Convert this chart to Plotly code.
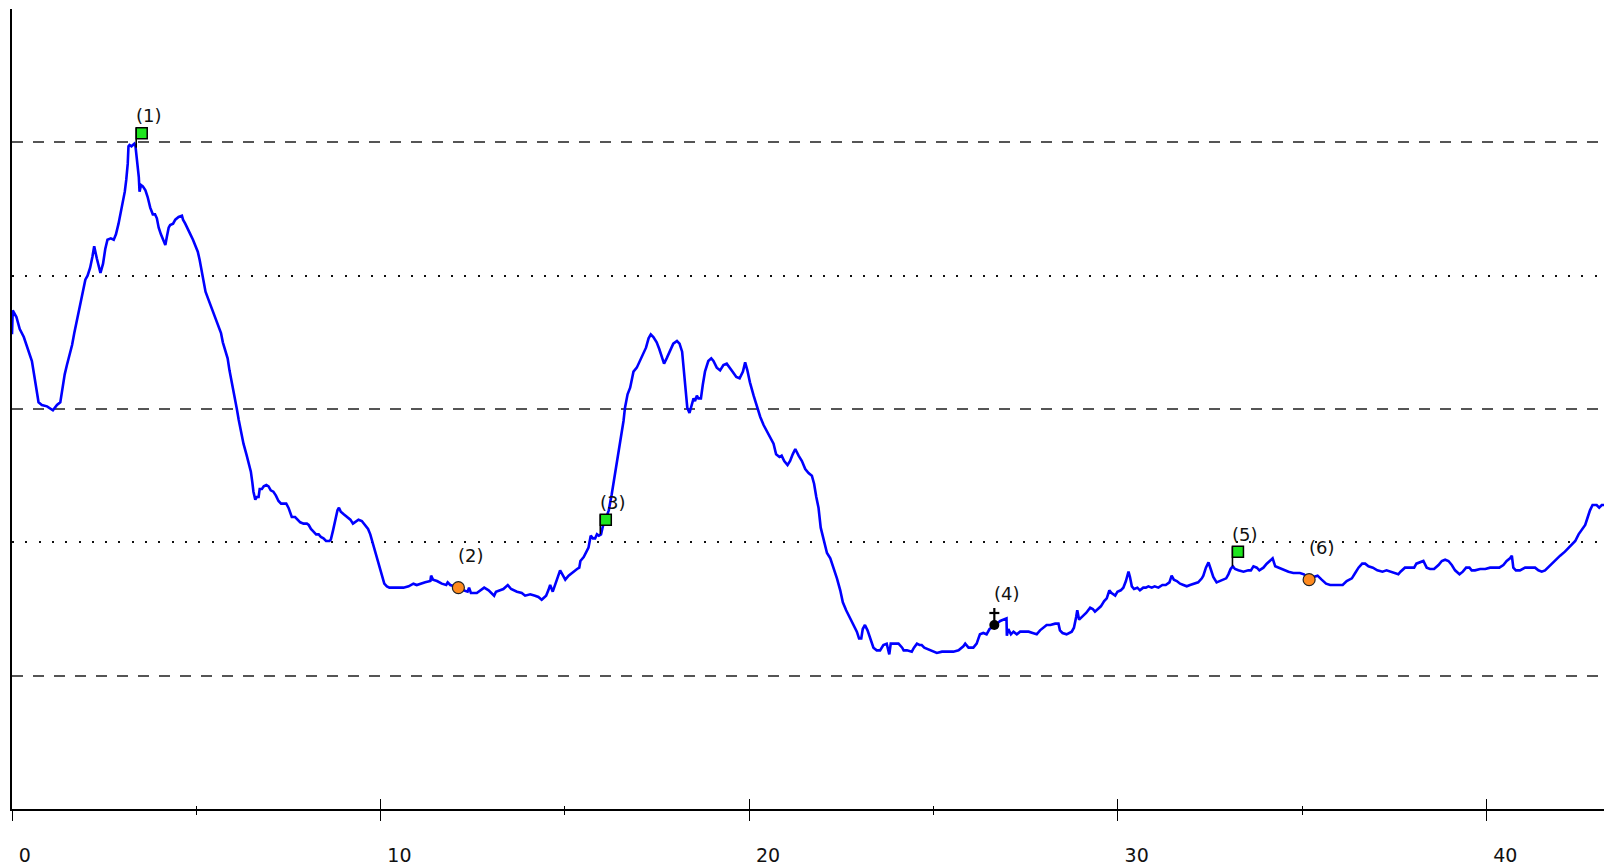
import plotly.graph_objects as go

# ---- route profile (distance in km, elevation in m) ----
km = [0.00, 0.02, 0.12, 0.21, 0.32, 0.42, 0.54, 0.61, 0.68, 0.72, 0.81, 0.95, 1.11, 1.22, 1.31, 1.37,
      1.43, 1.49, 1.58, 1.63, 1.69, 1.76, 1.85, 1.92, 1.99, 2.05, 2.12, 2.18, 2.23, 2.30, 2.40, 2.47,
      2.53, 2.59, 2.68, 2.76, 2.82, 2.89, 2.96, 3.00, 3.06, 3.10, 3.14, 3.16, 3.19, 3.24, 3.28, 3.32,
      3.35, 3.37, 3.41, 3.44, 3.46, 3.50, 3.55, 3.62, 3.68, 3.75, 3.82, 3.88, 3.93, 3.98, 4.04, 4.11,
      4.16, 4.20, 4.25, 4.29, 4.37, 4.43, 4.52, 4.61, 4.64, 4.70, 4.76, 4.84, 4.91, 4.97, 5.04, 5.09,
      5.14, 5.20, 5.25, 5.33, 5.40, 5.47, 5.54, 5.61, 5.67, 5.72, 5.79, 5.85, 5.90, 5.95, 5.99, 6.05,
      6.10,
      6.15, 6.21, 6.28, 6.36, 6.42, 6.48, 6.52, 6.55, 6.60, 6.64, 6.69, 6.72, 6.78, 6.83, 6.90, 6.96,
      7.02, 7.09, 7.16, 7.23, 7.30, 7.37, 7.44, 7.50, 7.55, 7.59, 7.68, 7.76, 7.82, 7.91, 8.00, 8.05,
      8.11, 8.18, 8.25, 8.32, 8.38, 8.45, 8.52, 8.61, 8.65, 8.71, 8.77, 8.83, 8.87, 8.92, 9.00, 9.09,
      9.18, 9.25, 9.31, 9.40, 9.49, 9.58, 9.66, 9.72, 9.79, 9.85, 9.92, 9.97, 10.04, 10.10, 10.17, 10.24,
      10.40, 10.62, 10.76, 10.85, 10.89, 10.98, 11.07, 11.21, 11.35, 11.37, 11.42, 11.53, 11.66, 11.78,
      11.82, 11.89, 12.00, 12.11, 12.25, 12.36, 12.40, 12.45, 12.61, 12.70, 12.81, 12.93, 13.02, 13.08,
      13.13, 13.24, 13.33, 13.45, 13.54, 13.70, 13.83, 13.92, 14.06, 14.19, 14.28, 14.37, 14.49, 14.55,
      14.60, 14.67, 14.74, 14.81, 14.87, 14.95, 15.01, 15.10, 15.22, 15.33, 15.39, 15.42, 15.51, 15.58,
      15.64, 15.70, 15.76, 15.82, 15.87, 15.92, 15.98, 16.03, 16.09, 16.19, 16.27, 16.36, 16.45, 16.52,
      16.59, 16.63, 16.70, 16.77, 16.86, 16.95, 17.04, 17.13, 17.20, 17.27, 17.33, 17.40, 17.49, 17.56,
      17.63, 17.69, 17.76, 17.85, 17.94, 18.04, 18.11, 18.18, 18.23, 18.29, 18.32, 18.38, 18.44, 18.49,
      18.53, 18.58, 18.62, 18.69, 18.74, 18.80, 18.89, 18.97, 19.03, 19.12, 19.21, 19.30, 19.39, 19.46,
      19.55, 19.65, 19.74, 19.83, 19.89, 19.95, 20.02, 20.12, 20.21, 20.30, 20.39, 20.48, 20.58, 20.66,
      20.73, 20.82, 20.88, 20.95, 21.04, 21.11, 21.18, 21.25, 21.34, 21.43, 21.52, 21.61, 21.70, 21.76,
      21.82, 21.88, 21.94, 22.02, 22.11, 22.20, 22.29, 22.38, 22.47, 22.54, 22.63, 22.74, 22.85, 22.92,
      22.98, 23.04, 23.08, 23.14, 23.21, 23.28, 23.37, 23.46, 23.55,
      23.64, 23.73, 23.80, 23.84, 23.91, 24.05, 24.15, 24.19, 24.28, 24.41, 24.47, 24.55, 24.62, 24.68,
      24.75, 24.84, 24.95, 25.09, 25.23, 25.36, 25.54, 25.68, 25.81, 25.86, 25.95, 26.08, 26.17, 26.22,
      26.26, 26.35, 26.44, 26.52, 26.58, 26.64, 26.72, 26.81, 26.90, 26.98, 26.99, 27.03, 27.10, 27.17,
      27.26, 27.35, 27.46, 27.58, 27.69, 27.80, 27.89, 27.98, 28.07, 28.17, 28.30, 28.39, 28.43, 28.50,
      28.61, 28.75, 28.81, 28.87, 28.90, 28.95, 29.02, 29.14, 29.25, 29.32, 29.38, 29.45, 29.54, 29.63,
      29.70, 29.77, 29.83, 29.93, 29.99, 30.08, 30.15, 30.22, 30.29, 30.33, 30.38, 30.44, 30.53, 30.60,
      30.69, 30.76, 30.83, 30.92, 31.00, 31.10, 31.16, 31.21, 31.30, 31.40, 31.46, 31.52, 31.60, 31.69,
      31.78, 31.87, 31.96, 32.07, 32.18, 32.28, 32.32, 32.39, 32.46, 32.52, 32.59, 32.68, 32.77, 32.86,
      32.94, 33.00, 33.06, 33.12, 33.18, 33.27, 33.41, 33.54, 33.61, 33.68, 33.77, 33.84, 33.95, 34.04,
      34.13, 34.20, 34.27, 34.36, 34.49, 34.63, 34.76, 34.94,
      35.05, 35.19, 35.31, 35.42, 35.53, 35.65, 35.76, 35.94, 36.10, 36.21, 36.35, 36.44, 36.53, 36.63,
      36.71, 36.80, 36.92, 37.04, 37.18, 37.29, 37.38, 37.49, 37.61, 37.67, 37.79, 37.91, 38.04, 38.10,
      38.20, 38.29, 38.38, 38.47, 38.58, 38.70, 38.79, 38.88, 38.97, 39.06, 39.15, 39.27, 39.36, 39.45,
      39.54, 39.60, 39.69, 39.83, 39.97, 40.10, 40.24, 40.35, 40.46, 40.55, 40.64, 40.69, 40.73, 40.80,
      40.91, 41.05, 41.18, 41.32, 41.41, 41.50, 41.59, 41.73, 41.86, 42.00, 42.13, 42.27, 42.41, 42.50,
      42.59, 42.68, 42.75, 42.81, 42.88, 42.99, 43.06, 43.13, 43.19]

elev = [356, 374, 369, 360, 354, 346, 336, 324, 311, 305, 303, 302, 299, 303, 305, 316,
        326, 333, 342, 348, 357, 367, 377, 387, 397, 400, 406, 414, 422, 413, 402, 409,
        420, 427, 428, 427, 431, 439, 449, 456, 463, 472, 484, 497, 498, 497, 498, 499,
        497, 492, 482, 474, 463, 468, 467, 464, 459, 451, 446, 446, 443, 436, 431, 427,
        423, 429, 436, 438, 439, 442, 444, 445, 442, 439, 435, 431, 427, 423, 418, 412,
        404, 394, 388, 382, 377, 372, 367, 362, 357, 350, 344, 338, 329, 322, 315, 309,
        300,
        292, 283, 274, 266, 260, 253, 245, 238, 232, 234, 234, 240, 240, 242, 243, 242,
        239, 238, 235, 231, 229, 229, 229, 226, 222, 219, 219, 217, 215, 214, 214, 213,
        210, 208, 206, 206, 204, 203, 201, 201, 202, 209, 218, 224, 226, 223, 221, 219,
        217, 214, 215, 217, 216, 213, 210, 206, 199, 194, 187, 180, 174, 169, 167, 166,
        166, 166, 167, 168, 169, 168, 169, 170, 171, 175, 172, 171, 169, 168,
        170, 168, 167, 166, 164, 163, 166, 162, 162, 164, 166, 164, 162, 160,
        163, 164, 165, 168, 165, 163, 162, 160, 161, 160, 159, 157, 160, 164,
        168, 163, 169, 175, 179, 175, 172, 175, 178, 180, 181, 186, 189, 193,
        196, 205, 203, 203, 206, 205, 206, 212, 216, 224, 236, 251, 266, 279,
        291, 301, 311, 316, 328, 331, 336, 341, 346, 353, 356, 354, 350, 345,
        339, 334, 338, 344, 349, 351, 349, 343, 329, 314, 301, 297, 304, 308,
        306, 310, 308, 308, 318, 328, 336, 338, 336, 331, 329, 333, 334, 331,
        328, 324, 323, 328, 335, 329, 320, 310, 301, 294, 288, 283, 278, 274,
        266, 264, 265, 261, 258, 261, 266, 270, 265, 261, 255, 252, 250, 244,
        234, 226, 211, 201, 192, 188, 181, 173, 164, 155, 149, 143, 138, 133,
        128, 128, 135, 138, 134, 128, 121, 119, 119,
        123, 124, 116, 124, 124, 124, 121, 119, 119, 118, 121, 124, 123, 123,
        121, 120, 119, 117, 118, 118, 118, 119, 122, 124, 121, 121, 124, 128,
        131, 132, 131, 135, 136, 138, 139, 141, 142, 143, 130, 135, 131, 133,
        131, 133, 133, 133, 132, 131, 134, 136, 138, 138, 139, 139, 134, 132,
        131, 133, 136, 144, 149, 142, 144, 147, 151, 150, 148, 150, 152, 156,
        158, 164, 162, 160, 163, 164, 166, 171, 178, 174, 167, 165, 166, 164,
        166, 166, 167, 166, 167, 166, 167, 168, 168, 170, 175, 172, 171, 169,
        168, 167, 168, 169, 170, 173, 175, 181, 185, 180, 174, 170, 171, 172,
        173, 176, 180, 182, 180, 179, 178, 179, 179, 182, 181, 179, 181, 184,
        186, 188, 182, 181, 179, 178, 177, 177,
        176, 172, 174, 175, 172, 169, 168, 168, 168, 171, 173, 177, 181, 184,
        184, 182, 181, 179, 178, 179, 178, 177, 176, 178, 181, 181, 181, 184,
        185, 186, 181, 180, 180, 183, 186, 187, 186, 183, 179, 176, 178, 181,
        181, 179, 179, 180, 180, 181, 181, 181, 183, 186, 188, 190, 181, 179,
        179, 181, 181, 181, 179, 178, 179, 183, 186, 190, 193, 197, 201, 206,
        210, 213, 219, 224, 228, 228, 226, 228, 228]

# ---- waypoints ----
flag_km = [3.37, 15.96, 33.11]
flag_elev = [496, 206, 182]
flag_labels = ["(1)", "(3)", "(5)"]

circle_km = [12.11, 35.19]
circle_elev = [166, 172]
circle_labels = ["(2)", "(6)"]

cross_km = [26.65]
cross_elev = [138]
cross_labels = ["(4)"]

x_ticks = [0, 10, 20, 30, 40]
tick_labels = ["0", "10", "20", "30", "40"]
grid_dashed = [100, 300, 500]
grid_dotted = [200, 400]

X_MAX = 43.19
Y_MAX = 600

# style constants (pixel geometry -> data units)
PX_X = X_MAX / 1592.0
PX_Y = Y_MAX / 800.0
POLE_PX = 20
SQ_PX = 11

FONT = "DejaVu Sans"

fig = go.Figure()

fig.add_trace(go.Scatter(x=km, y=elev, mode="lines",
                         line=dict(color="#0000ff", width=2.6),
                         hoverinfo="skip", showlegend=False))

# flag poles
pole_x, pole_y = [], []
for xv, yv in zip(flag_km, flag_elev):
    pole_x += [xv, xv, None]
    pole_y += [yv, yv + POLE_PX * PX_Y, None]
fig.add_trace(go.Scatter(x=pole_x, y=pole_y, mode="lines",
                         line=dict(color="black", width=1.6),
                         hoverinfo="skip", showlegend=False))
# flag squares
fig.add_trace(go.Scatter(
    x=[xv + (SQ_PX / 2) * PX_X for xv in flag_km],
    y=[yv + (POLE_PX - SQ_PX / 2) * PX_Y for yv in flag_elev],
    mode="markers",
    marker=dict(symbol="square", size=SQ_PX, color="#1ee61e",
                line=dict(color="black", width=1.5)),
    hoverinfo="skip", showlegend=False))

# orange circles
fig.add_trace(go.Scatter(x=circle_km, y=circle_elev, mode="markers",
                         marker=dict(symbol="circle", size=12, color="#ff8a1e",
                                     line=dict(color="#222", width=1.2)),
                         hoverinfo="skip", showlegend=False))

# black circle with cross (latin cross: bar + longer stem)
fig.add_trace(go.Scatter(x=cross_km, y=cross_elev, mode="markers",
                         marker=dict(symbol="circle", size=10, color="black"),
                         hoverinfo="skip", showlegend=False))
stem_x, stem_y = [], []
for xv, yv in zip(cross_km, cross_elev):
    stem_x += [xv, xv, None]
    stem_y += [yv + 4 * PX_Y, yv + 17 * PX_Y, None]
fig.add_trace(go.Scatter(x=stem_x, y=stem_y, mode="lines",
                         line=dict(color="black", width=2.2),
                         hoverinfo="skip", showlegend=False))
bar_x, bar_y = [], []
for xv, yv in zip(cross_km, cross_elev):
    bar_x += [xv - 5 * PX_X, xv + 5 * PX_X, None]
    bar_y += [yv + 12 * PX_Y, yv + 12 * PX_Y, None]
fig.add_trace(go.Scatter(x=bar_x, y=bar_y, mode="lines",
                         line=dict(color="black", width=2.2),
                         hoverinfo="skip", showlegend=False))

# labels
for xs, ys, labs in [(flag_km, flag_elev, flag_labels),
                     (circle_km, circle_elev, circle_labels),
                     (cross_km, cross_elev, cross_labels)]:
    for xv, yv, t in zip(xs, ys, labs):
        fig.add_annotation(x=xv, y=yv, text=t, showarrow=False,
                           xshift=13, yshift=32,
                           font=dict(family=FONT, size=18, color="#111"))

fig.update_layout(
    width=1604, height=868,
    margin=dict(l=12, r=0, t=9, b=59),
    paper_bgcolor="white", plot_bgcolor="white",
    showlegend=False,
    xaxis=dict(range=[0, X_MAX], showgrid=False, zeroline=False,
               showline=True, linecolor="black", linewidth=2.2,
               tickvals=x_ticks, ticktext=tick_labels,
               ticks="outside", ticklen=10, tickwidth=1.3, tickcolor="black",
               ticklabelposition="outside right", ticklabelstandoff=28,
               ticklabelshift=5,
               tickfont=dict(family=FONT, size=19, color="#111"),
               minor=dict(dtick=5, tick0=0, ticks="outside", ticklen=3.5,
                          tickwidth=1.2, tickcolor="black", showgrid=False)),
    xaxis2=dict(range=[0, X_MAX], overlaying="x", anchor="y", side="bottom",
                showgrid=False, zeroline=False, showline=False,
                tickvals=x_ticks, showticklabels=False,
                ticks="inside", ticklen=10, tickwidth=1.3, tickcolor="black",
                minor=dict(dtick=5, tick0=0, ticks="inside", ticklen=3.5,
                           tickwidth=1.2, tickcolor="black", showgrid=False)),
    yaxis=dict(range=[0, Y_MAX], zeroline=False,
               showline=True, linecolor="black", linewidth=2.2,
               tickvals=grid_dashed, showticklabels=False, ticks="",
               showgrid=True, gridcolor="#555555", gridwidth=1.8,
               griddash="11px,10px"),
    yaxis2=dict(range=[0, Y_MAX], overlaying="y", zeroline=False,
                showline=False, tickvals=grid_dotted, showticklabels=False,
                ticks="", showgrid=True, gridcolor="#111111", gridwidth=1.8,
                griddash="2px,11.3px"),
)

# dummy trace to activate overlay axes
fig.add_trace(go.Scatter(x=[None], y=[None], xaxis="x2", yaxis="y2",
                         showlegend=False, hoverinfo="skip"))

fig.write_html(
    "out.html",
    config={"displayModeBar": False},
    post_script="document.body.style.margin='0';"
                "document.documentElement.style.overflow='hidden';"
                "document.body.style.overflow='hidden';",
)
